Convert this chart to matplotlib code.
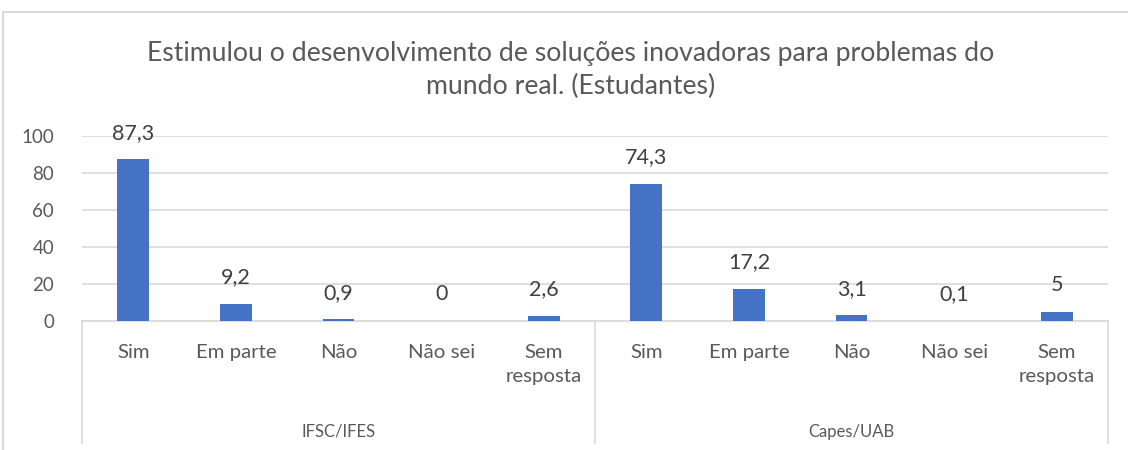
import matplotlib.pyplot as plt
from matplotlib.patches import Rectangle

plt.rcParams['font.family'] = ['Lato', 'DejaVu Sans']

# Dados
grupos = ["IFSC/IFES", "Capes/UAB"]
categorias = ["Sim", "Em parte", "Não", "Não sei", "Sem\nresposta"]
ifsc = [87.3, 9.2, 0.9, 0, 2.6]
capes = [74.3, 17.2, 3.1, 0.1, 5]
titulo = "Estimulou o desenvolvimento de soluções inovadoras para problemas do\nmundo real. (Estudantes)"

cor_barra = "#4472C4"
cor_texto = "#595959"
cor_rotulo = "#404040"
cor_grade = "#D9D9D9"

fig = plt.figure(figsize=(11.28, 4.5), dpi=100)
ax = fig.add_axes([82 / 1128, (450 - 321) / 450, (1108 - 82) / 1128, (321 - 136) / 450])

valores = ifsc + capes
rotulos = categorias * 2
x = list(range(len(valores)))
barras = ax.bar(x, valores, width=0.31, color=cor_barra, zorder=3)

# rótulos de dados
for xi, v in zip(x, valores):
    txt = f"{v:g}".replace(".", ",")
    ax.annotate(txt, (xi, v), xytext=(0, 12), textcoords="offset points",
                ha="center", va="bottom", fontsize=15.5, color=cor_rotulo)

ax.set_xlim(-0.5, len(valores) - 0.5)
ax.set_ylim(0, 100)
ax.set_yticks(range(0, 101, 20))
ax.yaxis.grid(True, color=cor_grade, linewidth=1.2, zorder=0)
ax.tick_params(axis="y", length=0, labelsize=13.5, labelcolor=cor_texto, pad=20)
ax.set_xticks([])
for s in ["top", "right", "left"]:
    ax.spines[s].set_visible(False)
ax.spines["bottom"].set_color(cor_grade)
ax.spines["bottom"].set_linewidth(1.2)

# rótulos de categoria em dois níveis
trans = ax.get_xaxis_transform()
for xi, r in zip(x, rotulos):
    ax.text(xi, -0.125, r, transform=trans, ha="center", va="top",
            fontsize=14.7, color=cor_texto, linespacing=1.5)
for i, g in enumerate(grupos):
    ax.text(i * 5 + 2, -0.555, g, transform=trans, ha="center", va="top",
            fontsize=12, color=cor_texto)
for xl in [-0.5, 4.5, 9.5]:
    ax.plot([xl, xl], [0, -0.66], transform=trans, color=cor_grade,
            linewidth=1.2, clip_on=False)

fig.text(571 / 1128, 1 - 70 / 450, titulo, ha="center", va="center",
         fontsize=19.2, color=cor_texto, linespacing=1.4)

# moldura do gráfico
fig.patches.append(Rectangle((3 / 1128, -0.1), 1.2, 1 - 12 / 450 + 0.1,
                             transform=fig.transFigure, fill=False,
                             edgecolor=cor_grade, linewidth=1.5))

fig.savefig("out.png", dpi=100)
